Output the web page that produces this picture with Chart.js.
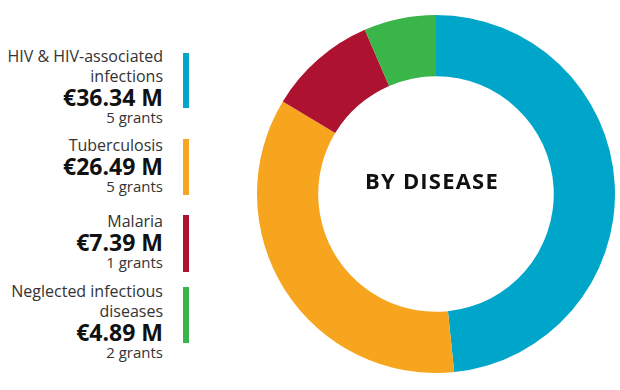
<!DOCTYPE html>
<html>
<head>
<meta charset="utf-8">
<script src="https://cdn.jsdelivr.net/npm/chart.js@4/dist/chart.umd.min.js"></script>
<style>
  html,body{margin:0;padding:0;background:#fff;width:620px;height:390px;overflow:hidden;font-family:"Open Sans",sans-serif;color:#222;}
  #wrap{position:absolute;left:257px;top:15px;width:358px;height:358px;}
  #center{position:absolute;left:332px;top:168px;width:200px;text-align:center;font-weight:700;font-size:22px;letter-spacing:1.2px;color:#111;line-height:24px;}
  .item{position:absolute;left:0;width:163px;text-align:right;}
  .lab{font-size:16px;line-height:20px;color:#333;}
  .val{font-size:23px;font-weight:700;line-height:23px;color:#111;}
  .gr{font-size:15px;line-height:16px;color:#333;}
  .bar{position:absolute;left:183px;width:6px;}
</style>
</head>
<body>
<div id="wrap"><canvas id="c"></canvas></div>
<div id="center">BY DISEASE</div>
<div id="legend"></div>
<script>
const categories = ["HIV & HIV-associated infections", "Tuberculosis", "Malaria", "Neglected infectious diseases"];
const labelLines = [["HIV & HIV-associated", "infections"], ["Tuberculosis"], ["Malaria"], ["Neglected infectious", "diseases"]];
const amounts = [36.34, 26.49, 7.39, 4.89];
const grants = [5, 5, 1, 2];
const colors = ["#00A6C9", "#F7A51E", "#AD1330", "#3AB54A"];

// legend layout (positions only)
const itemTops = [45.5, 134.5, 210.5, 280.8];
const barTops = [53, 139, 215, 287];
const barHeights = [55, 56, 57, 56];

const legend = document.getElementById("legend");
categories.forEach((cat, i) => {
  const d = document.createElement("div");
  d.className = "item";
  d.style.top = itemTops[i] + "px";
  let html = labelLines[i].map(l => '<div class="lab">' + l.replace("&","&amp;") + '</div>').join("");
  html += '<div class="val">€' + amounts[i].toFixed(2) + ' M</div>';
  html += '<div class="gr">' + grants[i] + ' grants</div>';
  d.innerHTML = html;
  legend.appendChild(d);
  const b = document.createElement("div");
  b.className = "bar";
  b.style.top = barTops[i] + "px";
  b.style.height = barHeights[i] + "px";
  b.style.background = colors[i];
  legend.appendChild(b);
});

new Chart(document.getElementById("c"), {
  type: "doughnut",
  data: {
    labels: categories,
    datasets: [{ data: amounts, backgroundColor: colors, borderWidth: 0, hoverOffset: 0 }]
  },
  options: {
    responsive: true,
    maintainAspectRatio: false,
    animation: false,
    cutout: "65.8%",
    layout: { padding: 0 },
    plugins: { legend: { display: false }, tooltip: { enabled: false } }
  }
});
</script>
</body>
</html>
